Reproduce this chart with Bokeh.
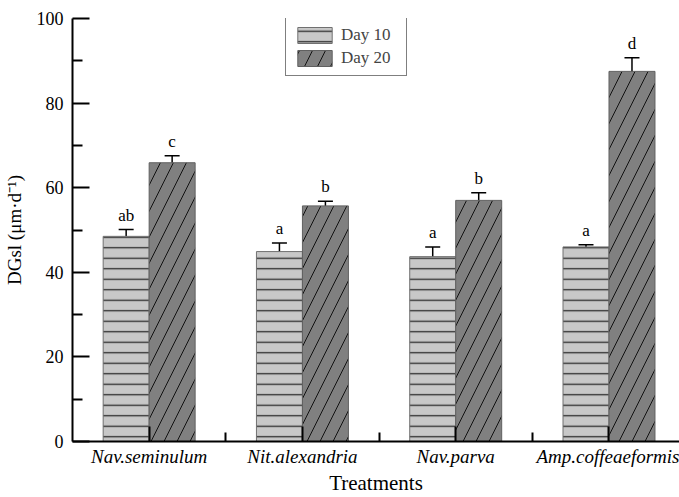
from bokeh.plotting import figure
from bokeh.models import ColumnDataSource, FixedTicker, Whisker, TeeHead, Legend, LegendItem
from bokeh.core.properties import value
from bokeh.embed import file_html
from bokeh.resources import INLINE

categories = ["Nav.seminulum", "Nit.alexandria", "Nav.parva", "Amp.coffeaeformis"]
day10 = [48.5, 44.9, 43.7, 46.0]
day10_err = [1.6, 2.0, 2.3, 0.5]
day20 = [65.9, 55.7, 57.0, 87.5]
day20_err = [1.65, 1.1, 1.8, 3.2]
letters10 = ["ab", "a", "a", "a"]
letters20 = ["c", "b", "b", "d"]
series_names = ["Day 10", "Day 20"]
y_ticks = [0, 20, 40, 60, 80, 100]

FONT = "Liberation Serif"
xpos = [i + 1 for i in range(len(categories))]
w = 0.3

src10 = ColumnDataSource(dict(
    x=[x - w / 2 for x in xpos], top=day10,
    upper=[v + e for v, e in zip(day10, day10_err)],
    lower=[v - e for v, e in zip(day10, day10_err)],
    lab=letters10))
src20 = ColumnDataSource(dict(
    x=[x + w / 2 for x in xpos], top=day20,
    upper=[v + e for v, e in zip(day20, day20_err)],
    lower=[v - e for v, e in zip(day20, day20_err)],
    lab=letters20))

p = figure(frame_width=607, frame_height=423, output_backend="svg", toolbar_location=None,
           x_range=(0.5, 4.46), y_range=(0, 100),
           min_border_left=70, min_border_right=0, min_border_top=18, min_border_bottom=48)
p.outline_line_color = None
p.grid.grid_line_color = None

r10 = p.vbar(x="x", top="top", width=w, source=src10,
             fill_color="#c8c8c8", line_color="#707070", line_width=1,
             hatch_pattern="-", hatch_color="#2a2a2a", hatch_scale=10.5, hatch_weight=1.3)
r20 = p.vbar(x="x", top="top", width=w, source=src20,
             fill_color="#808080", line_color="#606060", line_width=1,
             hatch_pattern="/", hatch_color="#111111", hatch_scale=26, hatch_weight=1)

for src in (src10, src20):
    wh = Whisker(base="x", upper="upper", lower="lower", source=src,
                 line_color="black", line_width=1.5,
                 upper_head=TeeHead(size=15, line_color="black", line_width=1.5),
                 lower_head=TeeHead(size=15, line_color="black", line_width=1.5))
    p.add_layout(wh)
    p.text(x="x", y="upper", text="lab", source=src, text_align="center",
           text_baseline="bottom", y_offset=-5, text_font=value(FONT),
           text_font_size="17px", text_color="black")

# axes
p.xaxis.ticker = FixedTicker(ticks=xpos, minor_ticks=[1.5, 2.5, 3.5])
p.xaxis.major_label_overrides = {x: c for x, c in zip(xpos, categories)}
p.xaxis.major_label_text_font_style = "italic"
p.yaxis.ticker = FixedTicker(ticks=y_ticks, minor_ticks=[10, 30, 50, 70, 90])
for ax in (p.xaxis, p.yaxis):
    ax.axis_line_width = 2
    ax.axis_line_color = "black"
    ax.major_tick_line_width = 2
    ax.minor_tick_line_width = 2
    ax.major_tick_line_color = "black"
    ax.minor_tick_line_color = "black"
    ax.major_tick_out = 0
    ax.minor_tick_out = 0
    ax.major_label_text_font = FONT
    ax.major_label_text_color = "black"
    ax.axis_label_text_font = FONT
    ax.axis_label_text_font_style = "normal"
    ax.axis_label_text_color = "black"
p.xaxis.major_label_text_font_size = "19px"
p.yaxis.major_label_text_font_size = "18px"
p.xaxis.axis_label_text_font_size = "21px"
p.yaxis.axis_label_text_font_size = "19px"
p.yaxis.major_tick_in = 17
p.yaxis.minor_tick_in = 10
p.xaxis.major_tick_in = 15
p.xaxis.minor_tick_in = 9
p.xaxis.major_label_standoff = 4
p.yaxis.major_label_standoff = 9
p.xaxis.axis_label = "Treatments"
p.yaxis.axis_label = "DGsl (μm·d⁻¹)"
p.xaxis.axis_label_standoff = 1
p.yaxis.axis_label_standoff = 9

legend = Legend(items=[LegendItem(label=series_names[0], renderers=[r10]),
                       LegendItem(label=series_names[1], renderers=[r20])],
                location=(213, 365))
legend.glyph_width = 43
legend.glyph_height = 20
legend.label_text_font = FONT
legend.label_text_font_size = "17px"
legend.label_standoff = 5
legend.label_width = 58
legend.padding = 7
legend.spacing = 3
legend.margin = 0
legend.border_line_color = "black"
legend.border_line_width = 1.2
legend.background_fill_alpha = 1
p.add_layout(legend)

open("out.html", "w").write(file_html(p, INLINE))
